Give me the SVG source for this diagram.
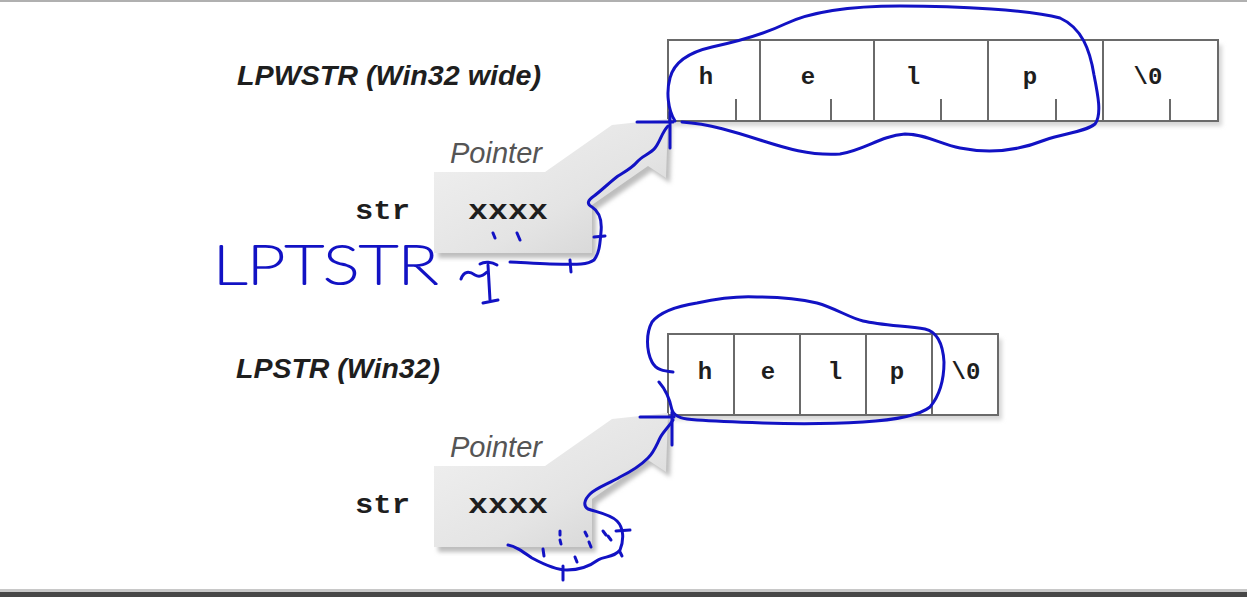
<svg xmlns="http://www.w3.org/2000/svg" width="1247" height="597" viewBox="0 0 1247 597">
<defs>
  <linearGradient id="ptrGrad" x1="0" y1="0" x2="1" y2="1">
    <stop offset="0" stop-color="#f2f2f2"/>
    <stop offset="0.6" stop-color="#e4e4e4"/>
    <stop offset="1" stop-color="#d2d2d2"/>
  </linearGradient>
  <filter id="soft" x="-10%" y="-10%" width="130%" height="130%">
    <feGaussianBlur stdDeviation="2"/>
  </filter>
  <path id="ptrShape" d="M434,172 L545,172 L612,125 L668,119 L666,178 L648,166 L592,205 L592,253 L434,253 Z"/>
</defs>
<style>
  .lbl { font-family: "Liberation Sans", Arial, sans-serif; font-weight: bold; font-style: italic; font-size: 28px; fill: #1e1e1e; }
  .ptr { font-family: "Liberation Sans", Arial, sans-serif; font-style: italic; font-size: 29px; fill: #555; }
  .mono { font-family: "Liberation Mono", "Courier New", monospace; font-weight: bold; fill: #1e1e1e; }
  .cell { fill: #ffffff; stroke: #6a6a6a; stroke-width: 2; }
  .div { stroke: #6a6a6a; stroke-width: 2; }
  .tick { stroke: #6a6a6a; stroke-width: 2; }
  .shadow { fill: #d6d6d6; filter: url(#soft); }
  .ink { fill: none; stroke: #1212c4; stroke-width: 3; stroke-linecap: round; stroke-linejoin: round; }
  .hand { font-family: Lato, Inter, "Liberation Sans", sans-serif; font-weight: 100; font-size: 53px; fill: #1212c4; stroke: #1212c4; stroke-width: 2.2; stroke-linejoin: round; stroke-linecap: round; }
</style>
<rect x="0" y="0" width="1247" height="597" fill="#ffffff"/>
<rect x="0" y="0" width="1247" height="2" fill="#b0b0b0"/>
<rect x="0" y="589" width="1247" height="3" fill="#c8c8c8"/>
<rect x="0" y="592" width="1247" height="5" fill="#474747"/>

<g id="label-lpwstr"><text class="lbl" x="237" y="85" textLength="304" lengthAdjust="spacingAndGlyphs">LPWSTR (Win32 wide)</text></g>
<g id="label-lpstr"><text class="lbl" x="236" y="378" textLength="204" lengthAdjust="spacingAndGlyphs">LPSTR (Win32)</text></g>

<g id="wide-array">
  <rect class="shadow" x="672" y="45" width="550" height="81"/>
  <rect class="cell" x="668" y="40" width="550" height="81"/>
  <line class="div" x1="760" y1="40" x2="760" y2="121"/>
  <line class="div" x1="874" y1="40" x2="874" y2="121"/>
  <line class="div" x1="988" y1="40" x2="988" y2="121"/>
  <line class="div" x1="1103" y1="40" x2="1103" y2="121"/>
  <line class="tick" x1="736" y1="99" x2="736" y2="121"/>
  <line class="tick" x1="831" y1="99" x2="831" y2="121"/>
  <line class="tick" x1="941" y1="99" x2="941" y2="121"/>
  <line class="tick" x1="1056" y1="99" x2="1056" y2="121"/>
  <line class="tick" x1="1170" y1="99" x2="1170" y2="121"/>
  <g class="mono" font-size="24" text-anchor="middle">
    <text x="706" y="84">h</text>
    <text x="808" y="84">e</text>
    <text x="913" y="84">l</text>
    <text x="1030" y="84">p</text>
    <text x="1148" y="84">\0</text>
  </g>
</g>

<g id="ansi-array">
  <rect class="shadow" x="672" y="339" width="330" height="81"/>
  <rect class="cell" x="668" y="334" width="330" height="81"/>
  <line class="div" x1="734" y1="334" x2="734" y2="415"/>
  <line class="div" x1="800" y1="334" x2="800" y2="415"/>
  <line class="div" x1="866" y1="334" x2="866" y2="415"/>
  <line class="div" x1="932" y1="334" x2="932" y2="415"/>
  <g class="mono" font-size="24" text-anchor="middle">
    <text x="705" y="379">h</text>
    <text x="768" y="379">e</text>
    <text x="835" y="379">l</text>
    <text x="897" y="379">p</text>
    <text x="966" y="379">\0</text>
  </g>
</g>

<g id="pointer-top">
  <use href="#ptrShape" transform="translate(4,5)" fill="#bdbdbd" filter="url(#soft)"/>
  <use href="#ptrShape" fill="url(#ptrGrad)"/>
  <text class="ptr" x="450" y="163" textLength="92" lengthAdjust="spacingAndGlyphs">Pointer</text>
  <text class="mono" x="355" y="219" font-size="28" textLength="55" lengthAdjust="spacingAndGlyphs">str</text>
  <text class="mono" x="468" y="219" font-size="28" textLength="80" lengthAdjust="spacingAndGlyphs">xxxx</text>
</g>

<g id="pointer-bottom" transform="translate(0,294)">
  <use href="#ptrShape" transform="translate(4,5)" fill="#bdbdbd" filter="url(#soft)"/>
  <use href="#ptrShape" fill="url(#ptrGrad)"/>
  <text class="ptr" x="450" y="163" textLength="92" lengthAdjust="spacingAndGlyphs">Pointer</text>
  <text class="mono" x="355" y="219" font-size="28" textLength="55" lengthAdjust="spacingAndGlyphs">str</text>
  <text class="mono" x="468" y="219" font-size="28" textLength="80" lengthAdjust="spacingAndGlyphs">xxxx</text>
</g>

<g id="annotations">
  <!-- top loop -->
  <path class="ink" d="M675,121 C668,110 666,92 670,78 C674,62 690,52 712,47 C735,42 760,36 785,24 C810,12 850,6 900,6 C960,6 1030,10 1060,18 C1082,28 1090,50 1094,75 C1098,95 1102,115 1095,124 C1085,132 1065,133 1045,140 C1020,150 990,154 960,148 C940,144 925,134 905,134 C880,136 865,150 840,154 C810,156 785,148 760,140 C735,132 710,124 682,122"/>
  <!-- top crosshair -->
  <path class="ink" d="M637,122 L673,122 M670,112 L670,148"/>
  <!-- top curve -->
  <path class="ink" d="M668,126 C662,132 660,142 655,148 C650,154 642,156 637,162 C632,168 626,171 618,176 C610,182 602,190 594,196 C588,200 586,204 592,207 C600,212 602,222 601,232 C600,242 600,252 594,260 C586,266 570,264 550,264 C535,264 520,262 510,262"/>
  <path class="ink" d="M594,237 L605,236 M570,260 L571,272"/>
  <path class="ink" d="M493,233 L495,238 M517,233 L520,240"/>
  <!-- bottom loop -->
  <path class="ink" d="M673,372 C664,371 656,370 652,362 C646,350 646,333 652,322 C660,312 678,306 697,303 C720,298 740,296 757,297 C780,297 800,299 817,303 C835,308 850,318 863,321 C880,325 905,326 925,329 C938,332 943,345 944,362 C944,380 940,395 930,407 C920,415 895,420 863,422 C830,424 795,424 763,423 C735,422 712,421 697,420 C684,419 675,418 672,410 C670,400 666,390 659,382"/>
  <!-- bottom crosshair -->
  <path class="ink" d="M640,417 L674,417 M672,412 L672,445"/>
  <!-- bottom curve -->
  <path class="ink" d="M673,420 C668,428 663,432 660,438 C656,446 654,452 648,458 C640,466 630,472 620,477 C608,484 596,488 590,494 C584,500 583,506 588,509 C596,512 610,514 617,521 C624,528 624,540 620,550 C614,558 604,556 598,560 C590,566 580,570 567,570 C556,570 545,565 532,558 C522,551 515,546 508,545"/>
  <path class="ink" d="M616,531 L630,530 M563,566 L563,580 M560,531 L560,535 M560,540 L561,544 M585,532 L587,536 M589,542 L591,547 M603,531 L606,535 M608,536 L611,540 M620,552 L622,556 M543,549 L544,556 M575,557 L577,562"/>
  <!-- LPTSTR note -->
  <text class="hand" x="213" y="284" textLength="225" lengthAdjust="spacingAndGlyphs">LPTSTR</text>
  <path class="ink" d="M461,279 C464,271 469,271 475,275 C480,278 484,275 487,272 M480,264 C485,261 492,262 497,265 M488,265 L490,300 M483,303 L498,300"/>
</g>
</svg>
